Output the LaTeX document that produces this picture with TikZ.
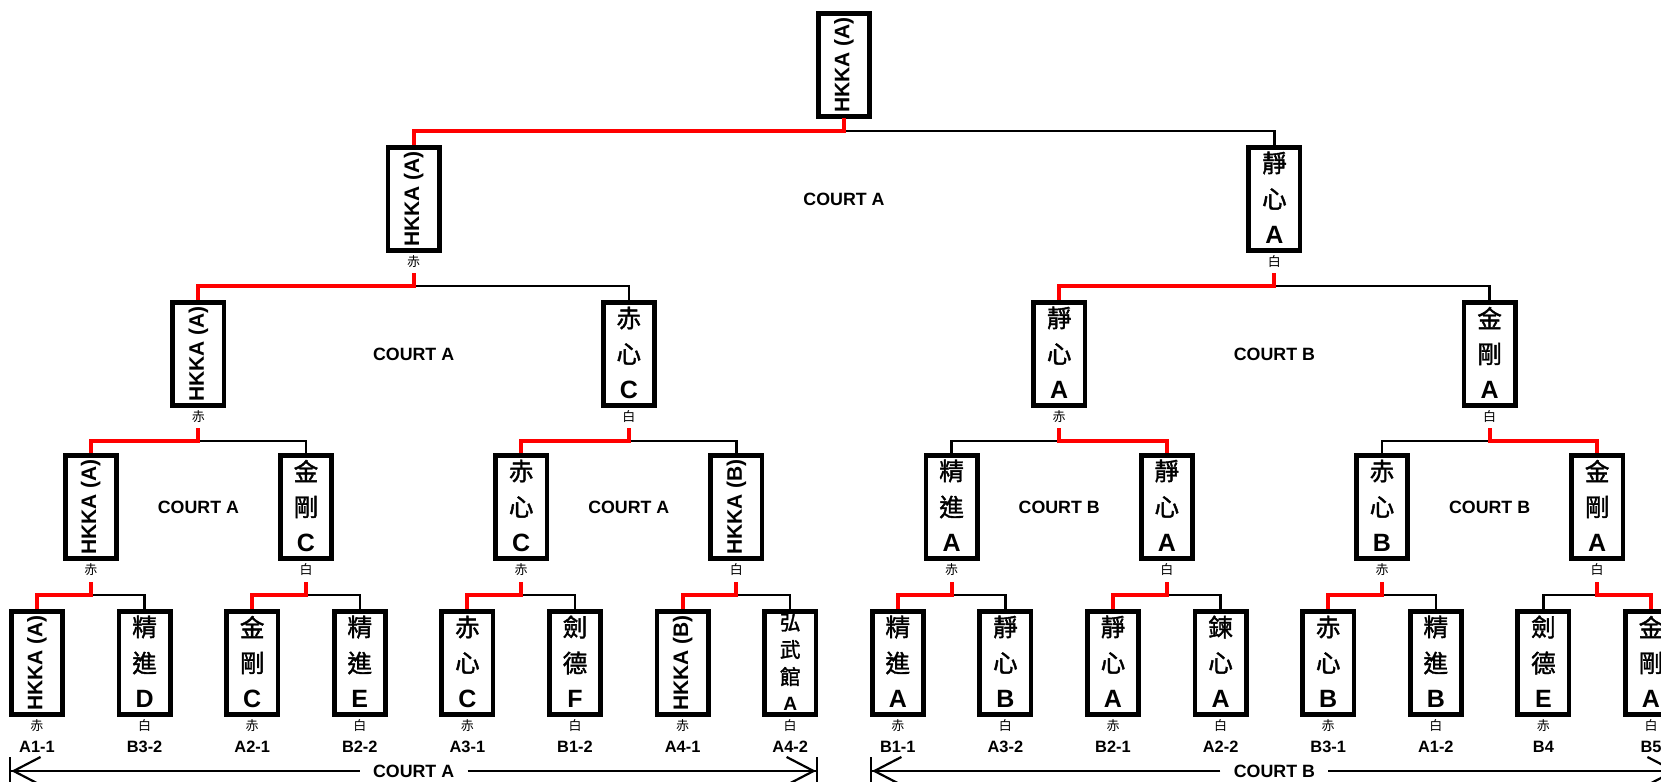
\documentclass[tikz,border=0pt]{standalone}
\usepackage{fontspec}
\setmainfont{Liberation Sans}
\newfontfamily\cjk{Noto Sans CJK TC}
\newfontfamily\cjkb[FakeBold=1.6]{Noto Sans CJK TC}
\usetikzlibrary{arrows.meta}

% lines of text stacked in a box
\newcommand\slot[2][18pt]{\vbox to #1{\vss\hbox to 0pt{\hss#2\hss}\vss}}
\newcommand\tri[3]{\vbox to 0pt{\offinterlineskip\vss
  \slot{\cjkb\fontsize{12.3pt}{12pt}\selectfont #1}%
  \slot{\cjkb\fontsize{12.3pt}{12pt}\selectfont #2}%
  \slot{\fontsize{12.5pt}{12.5pt}\selectfont\bfseries #3}\vss}}
\newcommand\quadline[4]{\vbox to 0pt{\offinterlineskip\vss
  \slot[13.5pt]{\cjkb\fontsize{10.3pt}{10.5pt}\selectfont #1}%
  \slot[13.5pt]{\cjkb\fontsize{10.3pt}{10.5pt}\selectfont #2}%
  \slot[13.5pt]{\cjkb\fontsize{10.3pt}{10.5pt}\selectfont #3}%
  \slot[13.5pt]{\fontsize{9.6pt}{10pt}\selectfont\bfseries #4}\vss}}
\newcommand\rot[1]{\rotatebox{90}{\fontsize{10.5pt}{12pt}\selectfont\bfseries #1}}

\begin{document}
\begin{tikzpicture}[x=0.5pt, y=-0.5pt,
    box/.style={draw, line width=2.35pt, minimum width=25.65pt, minimum height=51.65pt, inner sep=0pt},
    side/.style={font=\cjk\fontsize{6.5pt}{7pt}\selectfont, inner sep=0pt},
    code/.style={font=\fontsize{8.2pt}{9pt}\selectfont\bfseries, inner sep=0pt},
    court/.style={font=\fontsize{8.9pt}{10pt}\selectfont\bfseries, inner sep=0pt},
    win/.style={red, line width=2pt},
    lose/.style={black, line width=1.15pt},
    span/.style={line width=1.1pt, -{Straight Barb[length=13.5pt,width=14pt,line width=1.1pt,sep=0pt] Bar[width=14pt,line width=1.1pt]}}]
    \def\xo{37} \def\dx{107.6} % leaf spacing
    \useasboundingbox (0,0) rectangle (1661,782);
    % first round
    \foreach \k/\t/\m in {0/{\rot{HKKA (A)}}/A1-1, 1/{\tri{精}{進}{D}}/B3-2, 2/{\tri{金}{剛}{C}}/A2-1, 3/{\tri{精}{進}{E}}/B2-2,
        4/{\tri{赤}{心}{C}}/A3-1, 5/{\tri{劍}{德}{F}}/B1-2, 6/{\rot{HKKA (B)}}/A4-1, 7/{\quadline{弘}{武}{館}{A}}/A4-2,
        8/{\tri{精}{進}{A}}/B1-1, 9/{\tri{靜}{心}{B}}/A3-2, 10/{\tri{靜}{心}{A}}/B2-1, 11/{\tri{鍊}{心}{A}}/A2-2,
        12/{\tri{赤}{心}{B}}/B3-1, 13/{\tri{精}{進}{B}}/A1-2, 14/{\tri{劍}{德}{E}}/B4, 15/{\tri{金}{剛}{A}}/B5}{
        \pgfmathsetmacro\x{\xo+\dx*\k}
        \node[box] (n0-\k) at (\x,663) {\t};
        \node[side] (c0-\k) at (\x,726) {\ifodd\k\relax 白\else 赤\fi};
        \node[code] (k\k) at (\x,747) {\m};
    }
    % later rounds
    \foreach \l/\j/\t in {1/0/{\rot{HKKA (A)}}, 1/1/{\tri{金}{剛}{C}}, 1/2/{\tri{赤}{心}{C}}, 1/3/{\rot{HKKA (B)}},
        1/4/{\tri{精}{進}{A}}, 1/5/{\tri{靜}{心}{A}}, 1/6/{\tri{赤}{心}{B}}, 1/7/{\tri{金}{剛}{A}},
        2/0/{\rot{HKKA (A)}}, 2/1/{\tri{赤}{心}{C}}, 2/2/{\tri{靜}{心}{A}}, 2/3/{\tri{金}{剛}{A}},
        3/0/{\rot{HKKA (A)}}, 3/1/{\tri{靜}{心}{A}}, 4/0/{\rot{HKKA (A)}}}{
        \pgfmathsetmacro\x{\xo+\dx*(2^\l*\j+(2^\l-1)/2)}
        \pgfmathsetmacro\y{{663,507,354,199,65}[\l]}
        \pgfmathsetmacro\h{{0,595,441,286,131}[\l]}
        \node[box] (n\l-\j) at (\x,\y) {\t};
        \coordinate (s\l-\j) at (\x,\h-13);
        \ifnum\l<4 \node[side] (c\l-\j) at (\x,\y+63) {\ifodd\j\relax 白\else 赤\fi};\fi
    }
    % brackets, winner in red
    \foreach \l/\j/\w in {1/0/0, 1/1/0, 1/2/0, 1/3/0, 1/4/0, 1/5/0, 1/6/0, 1/7/1,
        2/0/0, 2/1/0, 2/2/1, 2/3/1, 3/0/0, 3/1/0, 4/0/0}{
        \pgfmathtruncatemacro\lc{\l-1}
        \pgfmathtruncatemacro\wc{2*\j+\w}
        \pgfmathtruncatemacro\lo{2*\j+1-\w}
        \draw[lose] (s\l-\j) ++(0,13) -| (n\lc-\lo.north);
        \draw[win] (s\l-\j) -- ++(0,13) -| (n\lc-\wc.north);
    }
    \foreach \l/\j/\c in {4/0/A, 3/0/A, 3/1/B, 2/0/A, 2/1/A, 2/2/B, 2/3/B}{
        \pgfmathtruncatemacro\lc{\l-1}
        \node[court] (m\l-\j) at (n\l-\j |- n\lc-0) {COURT \c};
    }
    % courts of the first round
    \coordinate (base) at (0,771);
    \coordinate (aL) at (n0-0.west |- base);
    \coordinate (aR) at (n0-7.east |- base);
    \coordinate (bL) at (n0-8.west |- base);
    \coordinate (bR) at (n0-15.east |- base);
    \node[court, inner xsep=6.5pt] (zA) at (n3-0 |- base) {COURT A};
    \node[court, inner xsep=6.5pt] (zB) at (n3-1 |- base) {COURT B};
    \draw[span] (zA) -- (aL);
    \draw[span] (zA) -- (aR);
    \draw[span] (zB) -- (bL);
    \draw[span] (zB) -- (bR);
\end{tikzpicture}
\end{document}
